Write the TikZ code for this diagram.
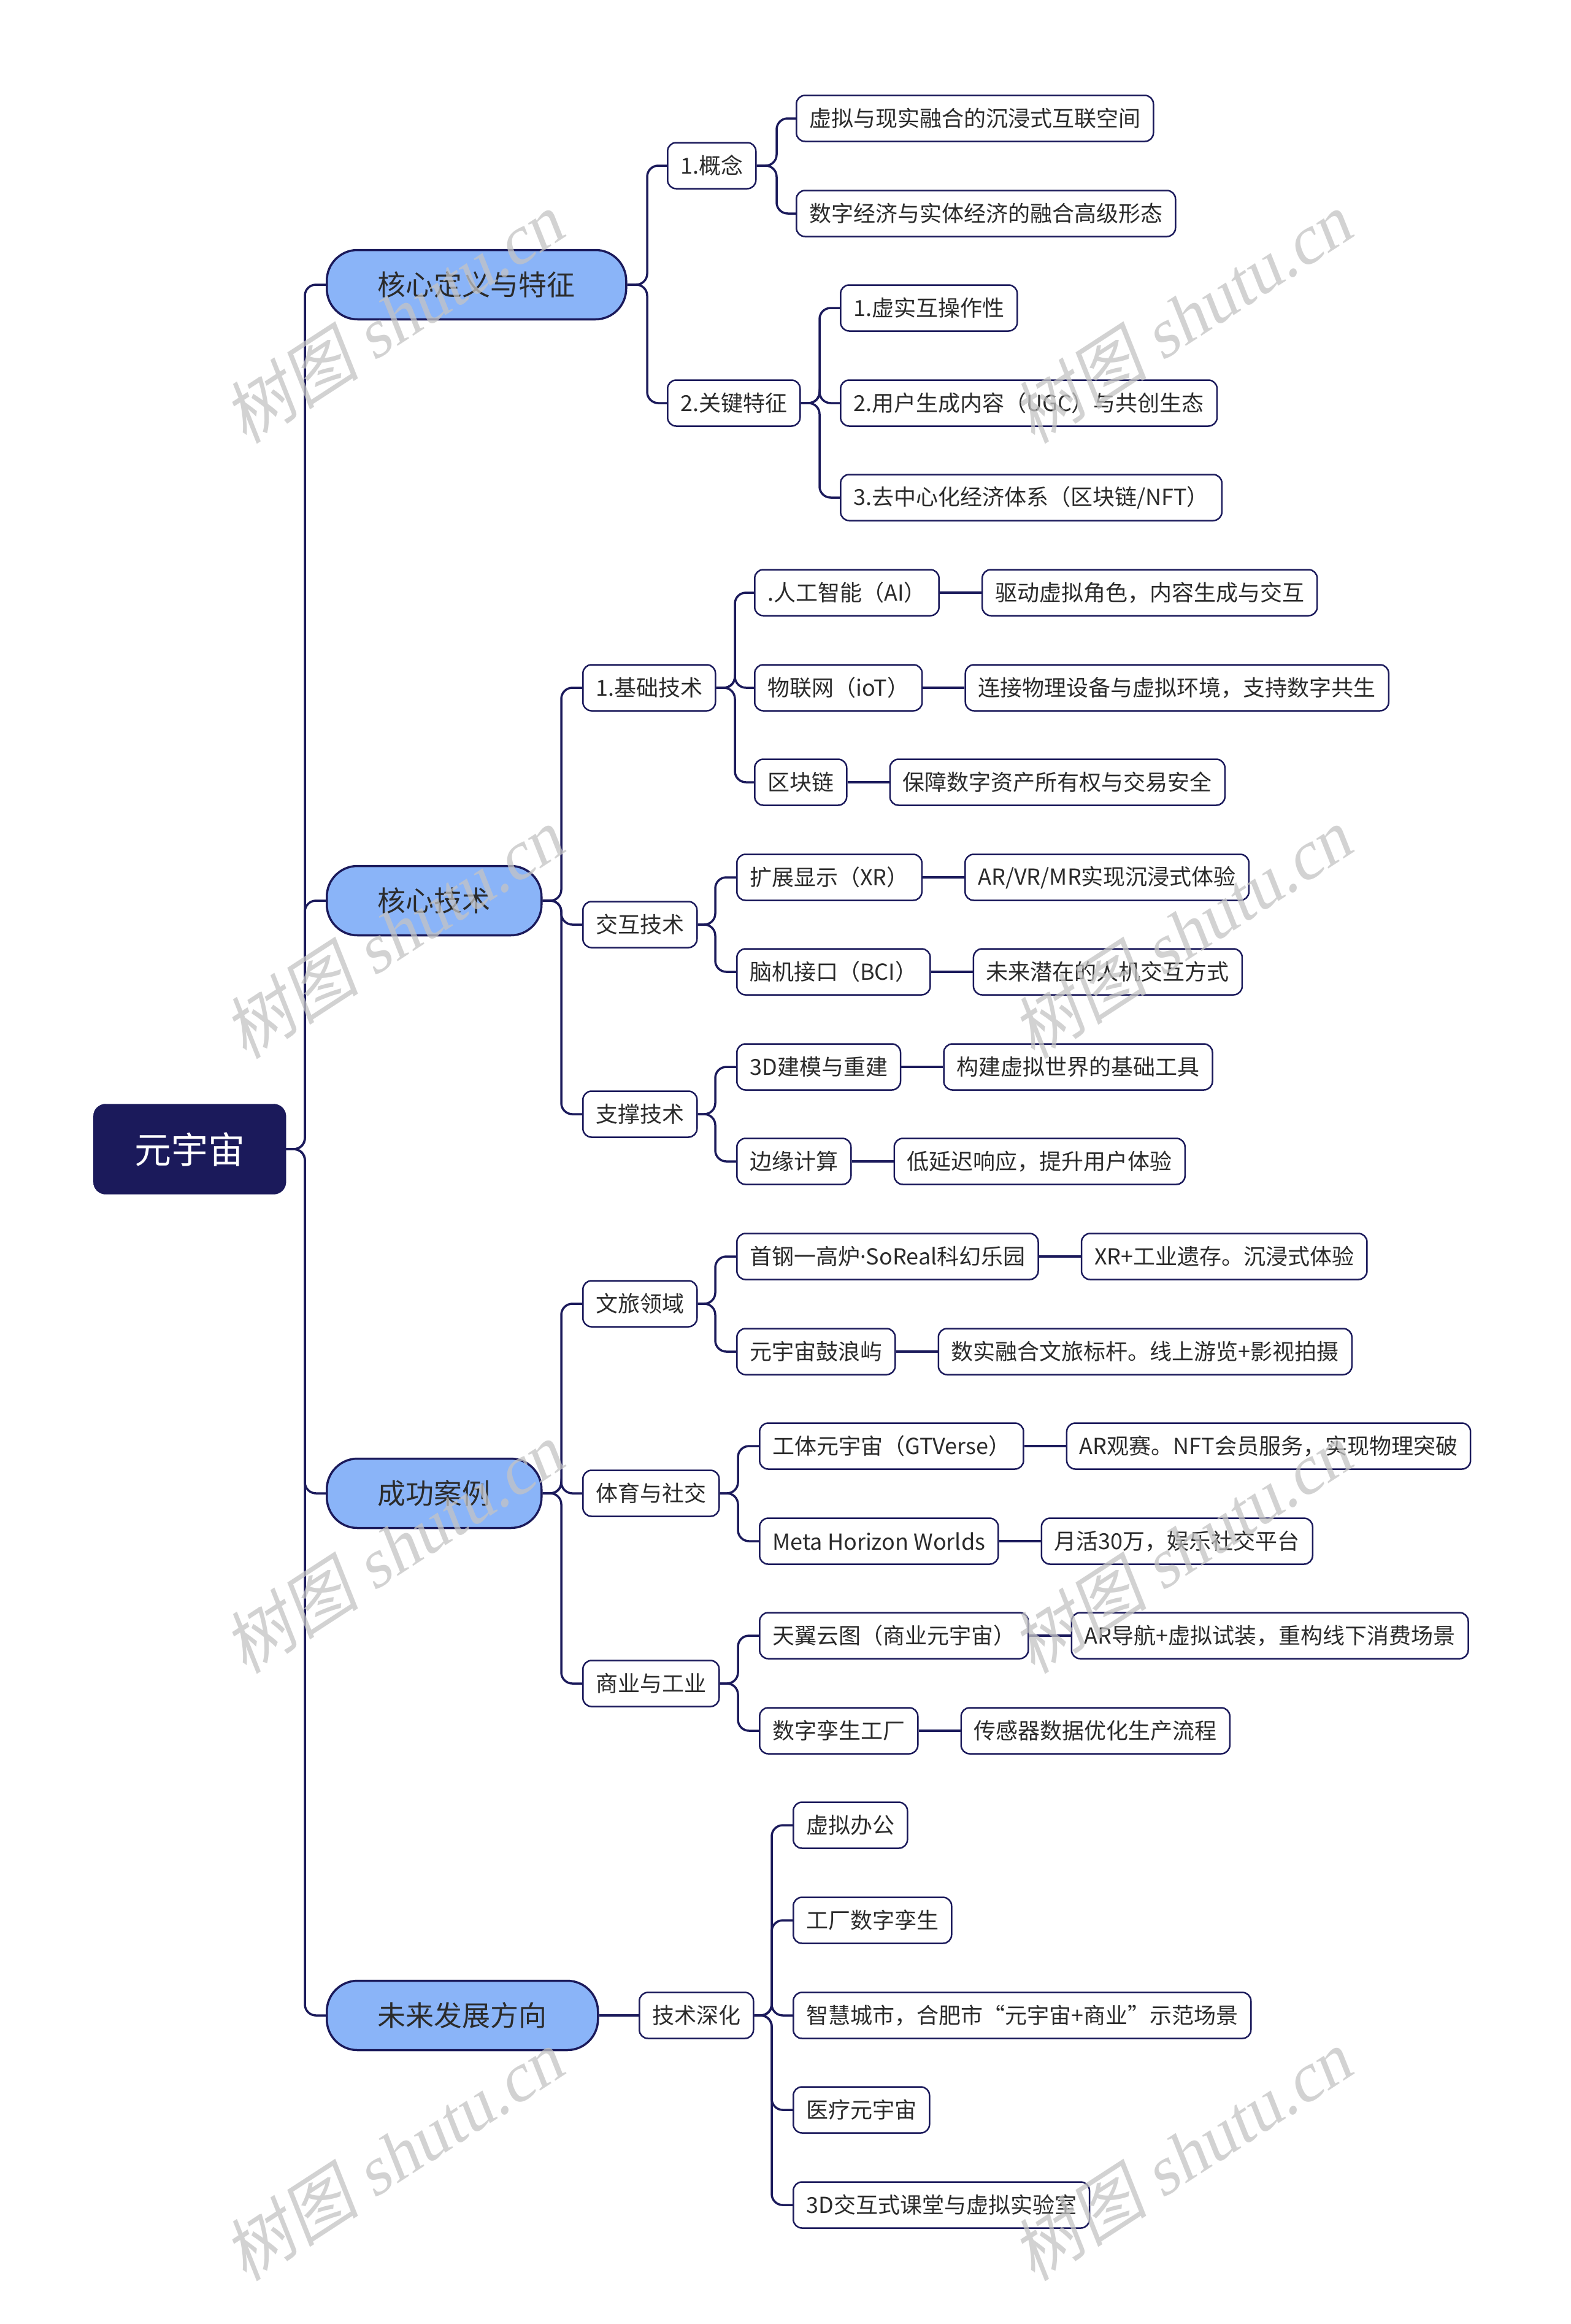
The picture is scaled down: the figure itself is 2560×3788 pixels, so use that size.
\documentclass[tikz,border=0pt]{standalone}
\usepackage{fontspec}
\setmainfont{Noto Sans CJK SC}
\newfontfamily\wmserif[FakeSlant=0.2]{Liberation Serif}
\newfontfamily\wmcjk[FakeSlant=0.2]{Noto Sans CJK SC}
\newfontfamily\latinfont{Noto Sans}
\usetikzlibrary{positioning}
\definecolor{navy}{HTML}{1B1A5B}
\definecolor{lblue}{HTML}{8AB4F8}
\definecolor{tdark}{HTML}{2B2B2B}
\definecolor{wmgray}{HTML}{C4C4C4}
\tikzset{
  rootbox/.style={fill=navy, draw=navy, rounded corners=20pt, text=white,
    font=\fontsize{60}{64}\selectfont, minimum width=314pt, minimum height=147pt,
    inner sep=0pt, anchor=west},
  onebox/.style={fill=lblue, draw=navy, line width=3.5pt, rounded corners=50pt,
    font=\fontsize{46}{50}\selectfont, text=tdark, minimum height=113pt,
    inner xsep=83pt, inner ysep=0pt, anchor=west},
  leafbox/.style={fill=white, draw=navy, line width=2.5pt, rounded corners=14pt,
    font=\fontsize{36}{40}\selectfont, text=tdark, minimum height=75pt,
    inner xsep=21pt, inner ysep=0pt, anchor=west},
  conn/.style={draw=navy, line width=3.5pt, rounded corners=18pt},
  wm/.style={text=wmgray, opacity=0.75, rotate=33, font=\fontsize{112}{112}\selectfont},
}
\newcommand\wmtext{{\wmcjk 树图} {\wmserif shutu.cn}}
\begin{document}
\begin{tikzpicture}[x=1pt,y=-1pt]
\fill[white] (0,0) rectangle (2560,3788);
\useasboundingbox (0,0) rectangle (2560,3788);

% bus coordinates
\coordinate (b0) at (497,0);
\coordinate (bA) at (1055,0);
\coordinate (bA1) at (1266,0);
\coordinate (bA2) at (1336,0);
\coordinate (bB) at (915,0);
\coordinate (bB1) at (1198,0);
\coordinate (bB2) at (1166,0);
\coordinate (bB3) at (1166,0);
\coordinate (bC) at (915,0);
\coordinate (bC1) at (1166,0);
\coordinate (bC2) at (1203,0);
\coordinate (bC3) at (1203,0);
\coordinate (bD1) at (1258,0);

% root
\node[rootbox] (root) at (152,1873) {元宇宙};

% level 1
\node[onebox] (A) at (531,464) {核心定义与特征};
\node[onebox] (B) at (531,1468) {核心技术};
\node[onebox] (C) at (531,2434) {成功案例};
\node[onebox] (D) at (531,3285) {未来发展方向};

% level 2
\node[leafbox] (A1) at (1087,270) {1.概念};
\node[leafbox] (A2) at (1087,657) {2.关键特征};
\node[leafbox] (B1) at (949,1121) {1.基础技术};
\node[leafbox] (B2) at (949,1507) {交互技术};
\node[leafbox] (B3) at (949,1816) {支撑技术};
\node[leafbox] (C1) at (949,2125) {文旅领域};
\node[leafbox] (C2) at (949,2434) {体育与社交};
\node[leafbox] (C3) at (949,2744) {商业与工业};
\node[leafbox] (D1) at (1041,3285) {技术深化};

% level 3
\node[leafbox] (A1a) at (1297,193) {虚拟与现实融合的沉浸式互联空间};
\node[leafbox] (A1b) at (1297,348) {数字经济与实体经济的融合高级形态};
\node[leafbox] (A2a) at (1369,502) {1.虚实互操作性};
\node[leafbox] (A2b) at (1369,657) {2.用户生成内容（UGC）与共创生态};
\node[leafbox] (A2c) at (1369,811) {3.去中心化经济体系（区块链/NFT）};
\node[leafbox] (B1a) at (1229,966) {.人工智能（AI）};
\node[leafbox] (B1b) at (1229,1121) {物联网（ioT）};
\node[leafbox] (B1c) at (1229,1275) {区块链};
\node[leafbox] (B2a) at (1200,1430) {扩展显示（XR）};
\node[leafbox] (B2b) at (1200,1584) {脑机接口（BCI）};
\node[leafbox] (B3a) at (1200,1739) {3D建模与重建};
\node[leafbox] (B3b) at (1200,1893) {边缘计算};
\node[leafbox] (C1a) at (1200,2048) {首钢一高炉{\latinfont ·}SoReal科幻乐园};
\node[leafbox] (C1b) at (1200,2203) {元宇宙鼓浪屿};
\node[leafbox] (C2a) at (1237,2357) {工体元宇宙（GTVerse）};
\node[leafbox] (C2b) at (1237,2512) {Meta Horizon Worlds};
\node[leafbox] (C3a) at (1237,2666) {天翼云图（商业元宇宙）};
\node[leafbox] (C3b) at (1237,2821) {数字孪生工厂};
\node[leafbox] (D1a) at (1292,2975) {虚拟办公};
\node[leafbox] (D1b) at (1292,3130) {工厂数字孪生};
\node[leafbox] (D1c) at (1292,3285) {智慧城市，合肥市“元宇宙+商业”示范场景};
\node[leafbox] (D1d) at (1292,3439) {医疗元宇宙};
\node[leafbox] (D1e) at (1292,3594) {3D交互式课堂与虚拟实验室};

% level 4
\node[leafbox, right=68pt of B1a] (B1a4) {驱动虚拟角色，内容生成与交互};
\node[leafbox, right=68pt of B1b] (B1b4) {连接物理设备与虚拟环境，支持数字共生};
\node[leafbox, right=68pt of B1c] (B1c4) {保障数字资产所有权与交易安全};
\node[leafbox, right=68pt of B2a] (B2a4) {AR/VR/MR实现沉浸式体验};
\node[leafbox, right=68pt of B2b] (B2b4) {未来潜在的人机交互方式};
\node[leafbox, right=68pt of B3a] (B3a4) {构建虚拟世界的基础工具};
\node[leafbox, right=68pt of B3b] (B3b4) {低延迟响应，提升用户体验};
\node[leafbox, right=68pt of C1a] (C1a4) {XR+工业遗存。沉浸式体验};
\node[leafbox, right=68pt of C1b] (C1b4) {数实融合文旅标杆。线上游览+影视拍摄};
\node[leafbox, right=68pt of C2a] (C2a4) {AR观赛。NFT会员服务，实现物理突破};
\node[leafbox, right=68pt of C2b] (C2b4) {月活30万，娱乐社交平台};
\node[leafbox, right=68pt of C3a] (C3a4) {AR导航+虚拟试装，重构线下消费场景};
\node[leafbox, right=68pt of C3b] (C3b4) {传感器数据优化生产流程};

% connectors: root to level 1
\foreach \c in {A,B,C,D}
  \draw[conn] (root.east) -- (b0 |- root.east) |- (\c.west);
% level 1 to level 2
\foreach \c in {A1,A2}
  \draw[conn] (A.east) -- (bA |- A.east) |- (\c.west);
\foreach \c in {B1,B2,B3}
  \draw[conn] (B.east) -- (bB |- B.east) |- (\c.west);
\foreach \c in {C1,C2,C3}
  \draw[conn] (C.east) -- (bC |- C.east) |- (\c.west);
\draw[conn] (D.east) -- (D1.west);
% level 2 to level 3
\foreach \c in {A1a,A1b}
  \draw[conn] (A1.east) -- (bA1 |- A1.east) |- (\c.west);
\foreach \c in {A2a,A2b,A2c}
  \draw[conn] (A2.east) -- (bA2 |- A2.east) |- (\c.west);
\foreach \c in {B1a,B1b,B1c}
  \draw[conn] (B1.east) -- (bB1 |- B1.east) |- (\c.west);
\foreach \c in {B2a,B2b}
  \draw[conn] (B2.east) -- (bB2 |- B2.east) |- (\c.west);
\foreach \c in {B3a,B3b}
  \draw[conn] (B3.east) -- (bB3 |- B3.east) |- (\c.west);
\foreach \c in {C1a,C1b}
  \draw[conn] (C1.east) -- (bC1 |- C1.east) |- (\c.west);
\foreach \c in {C2a,C2b}
  \draw[conn] (C2.east) -- (bC2 |- C2.east) |- (\c.west);
\foreach \c in {C3a,C3b}
  \draw[conn] (C3.east) -- (bC3 |- C3.east) |- (\c.west);
\foreach \c in {D1a,D1b,D1c,D1d,D1e}
  \draw[conn] (D1.east) -- (bD1 |- D1.east) |- (\c.west);
% level 3 to level 4
\foreach \c in {B1a,B1b,B1c,B2a,B2b,B3a,B3b,C1a,C1b,C2a,C2b,C3a,C3b}
  \draw[conn] (\c.east) -- (\c4.west);

% watermarks
\node[wm] (w1) at (640,519) {\wmtext};
\node[wm] (w2) at (1925,519) {\wmtext};
\node[wm] (w3) at (640,1522) {\wmtext};
\node[wm] (w4) at (1925,1522) {\wmtext};
\node[wm] (w5) at (640,2524) {\wmtext};
\node[wm] (w6) at (1925,2524) {\wmtext};
\node[wm] (w7) at (640,3514) {\wmtext};
\node[wm] (w8) at (1925,3514) {\wmtext};
\end{tikzpicture}
\end{document}
